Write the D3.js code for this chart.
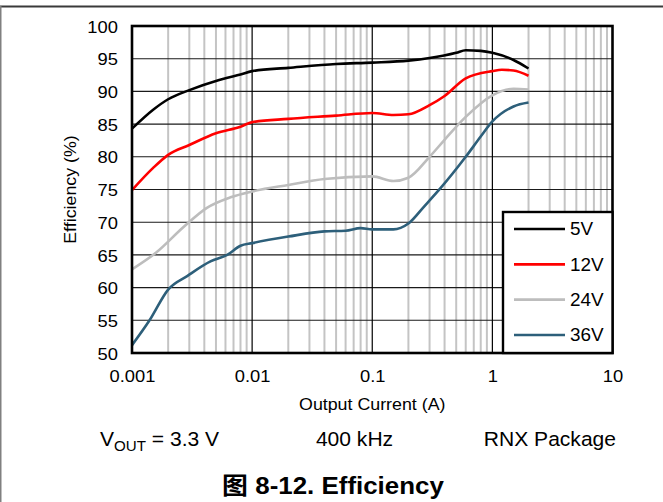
<!DOCTYPE html>
<html>
<head>
<meta charset="utf-8">
<script src="https://cdn.jsdelivr.net/npm/d3@7"></script>
<style>
  html, body { margin: 0; padding: 0; background: #fff; }
  svg { display: block; font-family: "Liberation Sans", Arial, sans-serif; }
</style>
</head>
<body>
<svg id="chart" width="663" height="502"></svg>
<script>
// ---- data ----
const seriesNames = ["5V", "12V", "24V", "36V"];
const seriesColors = ["#000000", "#ff0000", "#bdbdbd", "#2d5f7a"];

const current5 = [0.001, 0.0015, 0.002, 0.003, 0.005, 0.006, 0.008, 0.01, 0.02, 0.05, 0.1, 0.2, 0.3, 0.5, 0.6, 0.8, 1, 1.5, 2];
const eff5     = [84.3, 87.2, 88.8, 90.2, 91.6, 92.0, 92.6, 93.1, 93.6, 94.2, 94.4, 94.7, 95.1, 95.9, 96.3, 96.2, 95.9, 94.8, 93.5];

const current12 = [0.001, 0.0015, 0.002, 0.003, 0.005, 0.008, 0.01, 0.02, 0.05, 0.1, 0.15, 0.2, 0.3, 0.4, 0.6, 1, 1.2, 1.5, 2];
const eff12     = [74.9, 78.3, 80.3, 81.8, 83.6, 84.6, 85.3, 85.8, 86.3, 86.7, 86.4, 86.5, 87.9, 89.3, 92.0, 93.1, 93.3, 93.2, 92.4];

const current24 = [0.001, 0.0016, 0.0027, 0.0042, 0.0066, 0.01, 0.02, 0.04, 0.1, 0.15, 0.2, 0.3, 0.4, 0.6, 1, 1.5, 2];
const eff24     = [62.8, 65.4, 69.3, 72.2, 73.8, 74.7, 75.7, 76.6, 77.0, 76.3, 76.8, 80.0, 82.6, 86.1, 89.4, 90.4, 90.3];

const current36 = [0.001, 0.0014, 0.002, 0.0029, 0.0045, 0.0062, 0.008, 0.01, 0.02, 0.04, 0.06, 0.08, 0.1, 0.15, 0.2, 0.27, 0.37, 0.6, 0.8, 1, 1.5, 2];
const eff36     = [51.2, 55.0, 59.7, 61.8, 64.0, 65.0, 66.4, 66.8, 67.8, 68.6, 68.7, 69.1, 68.9, 68.9, 69.8, 72.4, 75.2, 80.0, 83.1, 85.4, 87.7, 88.3];

const xTicks = [0.001, 0.01, 0.1, 1, 10];
const xTickLabels = ["0.001", "0.01", "0.1", "1", "10"];
const yTicks = [50, 55, 60, 65, 70, 75, 80, 85, 90, 95, 100];

const xTitle = "Output Current (A)";
const yTitle = "Efficiency (%)";
const noteLeftMain = "V", noteLeftSub = "OUT", noteLeftRest = " = 3.3 V";
const noteMid = "400 kHz";
const noteRight = "RNX Package";
const figTitle = "图 8-12. Efficiency";

// ---- layout ----
const svg = d3.select("#chart");
const L = 132, R = 612.5, T = 26, B = 353;
const WIDEN = 1.08; // reference glyphs are slightly wider than Liberation Sans

const x = d3.scaleLog().domain([0.001, 10]).range([L, R]);
const y = d3.scaleLinear().domain([50, 100]).range([B, T]);

// page frame
svg.append("line").attr("x1", 0).attr("x2", 663).attr("y1", 6.5).attr("y2", 6.5)
  .attr("stroke", "#3a3a3a").attr("stroke-width", 2);
svg.append("line").attr("x1", 0.75).attr("x2", 0.75).attr("y1", 6).attr("y2", 502)
  .attr("stroke", "#808080").attr("stroke-width", 1.5);

const g = svg.append("g");

// minor vertical gridlines
const minors = [];
[0.001, 0.01, 0.1, 1].forEach(d => { for (let k = 2; k <= 9; k++) minors.push(d * k); });
g.selectAll("line.minor").data(minors).enter().append("line")
  .attr("class", "minor")
  .attr("x1", d => x(d)).attr("x2", d => x(d))
  .attr("y1", T).attr("y2", B)
  .attr("stroke", "#c4c4c4").attr("stroke-width", 2);

// horizontal gridlines
g.selectAll("line.hgrid").data(yTicks.slice(1, -1)).enter().append("line")
  .attr("class", "hgrid")
  .attr("x1", L).attr("x2", R)
  .attr("y1", d => y(d)).attr("y2", d => y(d))
  .attr("stroke", "#1a1a1a").attr("stroke-width", 1.1);

// major vertical gridlines
g.selectAll("line.major").data(xTicks.slice(1, -1)).enter().append("line")
  .attr("class", "major")
  .attr("x1", d => x(d)).attr("x2", d => x(d))
  .attr("y1", T).attr("y2", B)
  .attr("stroke", "#000").attr("stroke-width", 1.2);

// series
const series = [
  { name: seriesNames[0], color: seriesColors[0], xs: current5, ys: eff5 },
  { name: seriesNames[1], color: seriesColors[1], xs: current12, ys: eff12 },
  { name: seriesNames[2], color: seriesColors[2], xs: current24, ys: eff24 },
  { name: seriesNames[3], color: seriesColors[3], xs: current36, ys: eff36 }
];
const line = d3.line().x(d => x(d[0])).y(d => y(d[1])).curve(d3.curveMonotoneX);
series.slice().reverse().forEach(s => {
  g.append("path")
    .datum(s.xs.map((v, i) => [v, s.ys[i]]))
    .attr("fill", "none")
    .attr("stroke", s.color)
    .attr("stroke-width", 2.6)
    .attr("stroke-linejoin", "round")
    .attr("d", line);
});

// plot border
g.append("rect").attr("x", L).attr("y", T).attr("width", R - L).attr("height", B - T)
  .attr("fill", "none").attr("stroke", "#000").attr("stroke-width", 2.6);

// axes labels via d3 axes (domain & ticks hidden)
const xAxis = d3.axisBottom(x).tickValues(xTicks).tickFormat((d, i) => xTickLabels[i]).tickSize(0).tickPadding(0);
const xg = svg.append("g").attr("transform", `translate(0,${B})`).call(xAxis);
xg.select(".domain").remove();
xg.selectAll("text").attr("font-size", 17).attr("font-family", "Liberation Sans, Arial, sans-serif")
  .attr("fill", "#000").attr("y", 0).attr("dy", 0)
  .attr("transform", `translate(0,29) scale(${WIDEN},1)`);

const yAxis = d3.axisLeft(y).tickValues(yTicks).tickFormat(d3.format("d")).tickSize(0).tickPadding(0);
const yg = svg.append("g").attr("transform", `translate(${L - 14},0)`).call(yAxis);
yg.select(".domain").remove();
yg.selectAll("text").attr("font-size", 17).attr("font-family", "Liberation Sans, Arial, sans-serif")
  .attr("fill", "#000").attr("x", 0).attr("dy", "0.36em")
  .attr("transform", `scale(${WIDEN},1)`);

// helper for widened text
function wideText(cx, cy, anchor, size, str, weight) {
  const t = svg.append("text")
    .attr("transform", `translate(${cx},${cy}) scale(${WIDEN},1)`)
    .attr("text-anchor", anchor).attr("font-size", size);
  if (weight) t.attr("font-weight", weight);
  if (str !== null) t.text(str);
  return t;
}

// axis titles
wideText((L + R) / 2, 410, "middle", 16.5, xTitle);
svg.append("text").attr("transform", `translate(76,${(T + B) / 2}) rotate(-90) scale(${WIDEN},1)`)
  .attr("text-anchor", "middle").attr("font-size", 16.5).text(yTitle);

// legend
const lg = svg.append("g");
const lx = 503, ly = 212, lw = R - lx, lh = B - ly;
lg.append("rect").attr("x", lx).attr("y", ly).attr("width", lw).attr("height", lh)
  .attr("fill", "#fff").attr("stroke", "#000").attr("stroke-width", 2.4);
const rowY = d3.scalePoint().domain(seriesNames).range([229, 335]);
series.forEach(s => {
  lg.append("line").attr("x1", 514).attr("x2", 565)
    .attr("y1", rowY(s.name)).attr("y2", rowY(s.name))
    .attr("stroke", s.color).attr("stroke-width", 2.6);
  lg.append("text").attr("transform", `translate(570,${rowY(s.name)}) scale(${WIDEN},1)`)
    .attr("dy", "0.36em").attr("font-size", 17.5).text(s.name);
});

// notes
const n1 = wideText(100, 446, "start", 19.5, null);
n1.append("tspan").text(noteLeftMain);
n1.append("tspan").attr("font-size", 14).attr("dy", 5).text(noteLeftSub);
n1.append("tspan").attr("dy", -5).text(noteLeftRest);
wideText(354.5, 446, "middle", 19.5, noteMid);
wideText(616, 446, "end", 19.5, noteRight);

// figure title
wideText(333, 494, "middle", 24, figTitle, "bold")
  .attr("font-family", "Liberation Sans, Arial, 'Noto Sans CJK SC', sans-serif");
</script>
</body>
</html>
